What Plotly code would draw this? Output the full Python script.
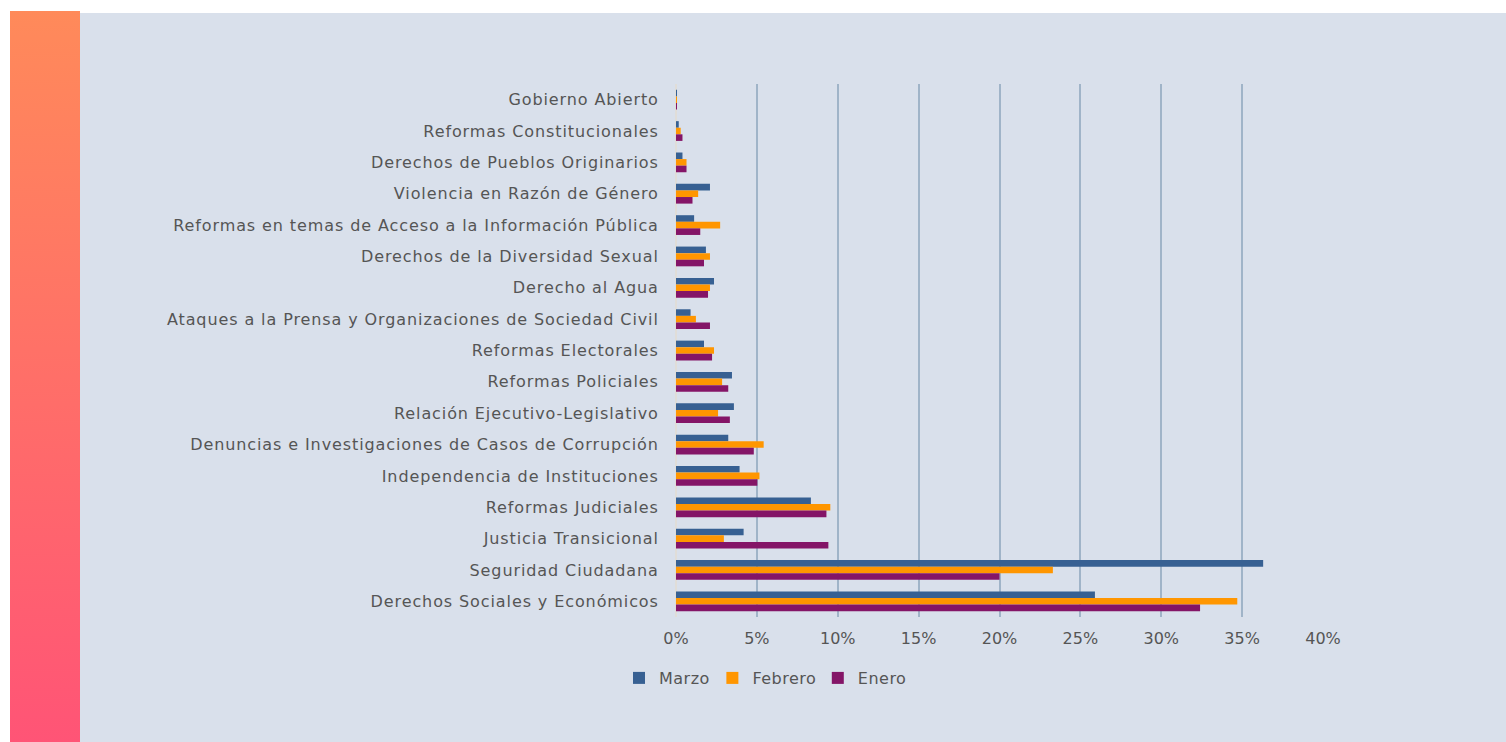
import base64
import plotly.graph_objects as go

categories = [
    "Gobierno Abierto",
    "Reformas Constitucionales",
    "Derechos de Pueblos Originarios",
    "Violencia en Razón de Género",
    "Reformas en temas de Acceso a la Información Pública",
    "Derechos de la Diversidad Sexual",
    "Derecho al Agua",
    "Ataques a la Prensa y Organizaciones de Sociedad Civil",
    "Reformas Electorales",
    "Reformas Policiales",
    "Relación Ejecutivo-Legislativo",
    "Denuncias e Investigaciones de Casos de Corrupción",
    "Independencia de Instituciones",
    "Reformas Judiciales",
    "Justicia Transicional",
    "Seguridad Ciudadana",
    "Derechos Sociales y Económicos",
]
marzo = [0.05, 0.17, 0.40, 2.10, 1.12, 1.85, 2.35, 0.90, 1.73, 3.46, 3.58, 3.23, 3.93, 8.34, 4.18, 36.3, 25.9]
febrero = [0.05, 0.29, 0.65, 1.37, 2.73, 2.10, 2.10, 1.23, 2.35, 2.85, 2.60, 5.42, 5.16, 9.54, 2.96, 23.3, 34.7]
enero = [0.05, 0.40, 0.65, 1.02, 1.50, 1.73, 1.98, 2.10, 2.23, 3.23, 3.33, 4.81, 5.03, 9.30, 9.42, 20.0, 32.4]
x_ticks = [0, 5, 10, 15, 20, 25, 30, 35, 40]

W, H = 1506, 742
PL, PR, PT, PB = 676, 1323, 84, 617  # plot area in pixels


def px_x(p):
    return (p - PL) / (PR - PL)


def px_y(p):
    return (PB - p) / (PB - PT)


TXT = "#555555"
FONT = "DejaVu Sans"

# background: white page, gradient strip, light panel
svg = f'''<svg xmlns="http://www.w3.org/2000/svg" width="{W}" height="{H}" viewBox="0 0 {W} {H}">
<defs><linearGradient id="g" x1="0" y1="0" x2="0" y2="1">
<stop offset="0" stop-color="#FF8A5A"/><stop offset="1" stop-color="#FF5476"/></linearGradient></defs>
<rect x="0" y="0" width="{W}" height="{H}" fill="#FFFFFF"/>
<rect x="10" y="11" width="70" height="{H - 11}" fill="url(#g)"/>
<rect x="80" y="13" width="{W - 80}" height="{H - 13}" fill="#D9E0EB"/>
</svg>'''
bg_uri = "data:image/svg+xml;base64," + base64.b64encode(svg.encode()).decode()

fig = go.Figure()
for name, vals, col in [("Marzo", marzo, "#376092"), ("Febrero", febrero, "#FF9600"), ("Enero", enero, "#841567")]:
    fig.add_trace(go.Bar(y=categories, x=vals, name=name, orientation="h",
                         marker=dict(color=col, line=dict(width=0))))

fig.update_layout(
    width=W, height=H, autosize=False,
    margin=dict(l=PL, r=W - PR, t=PT, b=H - PB, pad=0),
    paper_bgcolor="white", plot_bgcolor="rgba(0,0,0,0)",
    font=dict(family=FONT, size=16, color=TXT),
    barmode="group", bargap=0.37, bargroupgap=0,
    images=[dict(source=bg_uri, xref="paper", yref="paper", x=px_x(0), y=px_y(0),
                 sizex=W / (PR - PL), sizey=H / (PB - PT), xanchor="left", yanchor="top",
                 sizing="stretch", layer="below")],
    showlegend=True,
    legend=dict(orientation="h", x=px_x(764), xanchor="center", y=px_y(678), yanchor="middle",
                font=dict(family=FONT, size=16, color=TXT), bgcolor="rgba(0,0,0,0)",
                itemwidth=30, tracegroupgap=0),
    xaxis=dict(range=[0, 40], tickvals=x_ticks, ticktext=["%d%%" % v for v in x_ticks],
               showgrid=True, gridcolor="#A0B4C8", gridwidth=2,
               zeroline=True, zerolinecolor="#E0DDD8", zerolinewidth=2,
               ticks="outside", ticklen=7, tickcolor="rgba(0,0,0,0)", showline=False,
               tickfont=dict(family=FONT, size=16, color=TXT), fixedrange=True),
    yaxis=dict(autorange="reversed", showgrid=False, ticks="outside", ticklen=13,
               tickcolor="rgba(0,0,0,0)", showline=False,
               tickfont=dict(family=FONT, size=16, color=TXT), fixedrange=True),
)

css_js = (
    "document.body.style.margin='0';document.body.style.overflow='hidden';"
    "var s=document.createElement('style');"
    "s.textContent='.ytick text{letter-spacing:0.9px}.legendtext{letter-spacing:0.5px}';"
    "document.head.appendChild(s);"
)
fig.write_html("out.html", config={"displayModeBar": False}, post_script=css_js)
